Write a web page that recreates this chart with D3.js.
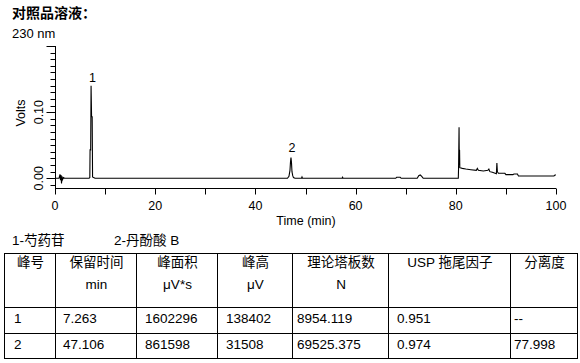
<!DOCTYPE html>
<html>
<head>
<meta charset="utf-8">
<script src="https://cdn.jsdelivr.net/npm/d3@7"></script>
<style>
  body { margin: 0; background: #fff; }
  text { font-family: "Liberation Sans", Arial, "Noto Sans CJK SC", sans-serif; fill: #000; }
</style>
</head>
<body>
<div id="chart"></div>
<script>
// chromatogram trace
let times = [0, 0.8, 1.0, 1.1, 1.2, 1.3, 1.4, 1.5, 1.7, 1.9,
	6.8, 6.95, 7.0, 7.12, 7.2, 7.3, 7.42, 7.5, 7.7, 8.0,
	46.4, 46.7, 46.9, 47.0, 47.1, 47.2, 47.3, 47.45, 47.6, 47.9,
	49.2, 49.3, 49.4, 57.3, 57.4, 57.5, 68.0, 68.2, 68.9, 69.1,
	72.3, 72.6, 72.9, 73.2, 73.5,
	80.5, 80.55, 80.65, 80.7, 80.75, 80.8, 81.3, 82.0, 83.0, 84.1, 84.3, 84.5, 85.5, 86.4, 86.6, 86.8,
	87.3, 87.7, 88.1, 88.2, 88.3, 88.5, 89.8, 90.0, 91.4, 91.6, 92.3, 92.5, 99.6, 99.8, 100];
let volts = [0, 0, 0.006, -0.003, 0.005, -0.008, 0.003, -0.002, 0.001, 0,
	0, 0.001, 0.043, 0.043, 0.140, 0.093, 0.093, 0.002, 0.001, 0,
	0, 0.003, 0.012, 0.024, 0.0315, 0.024, 0.010, 0.004, 0.001, 0,
	0, 0.002, 0, 0, 0.0015, 0, 0, 0.0015, 0.0015, 0,
	0, 0.004, 0.005, 0.003, 0,
	0, 0.015, 0.077, 0.020, 0.043, 0.016, 0.015, 0.014, 0.013, 0.012, 0.015, 0.012, 0.011, 0.012, 0.014, 0.010,
	0.009, 0.008, 0.007, 0.023, 0.010, 0.0075, 0.0075, 0.0055, 0.0055, 0.0065, 0.0065, 0.0035, 0.0035, 0.005, 0.005];

let peakLabels = ['1', '2'];
let peakTimes = [7.263, 47.106];
let peakVolts = [0.1384, 0.0315];

let legendItems = ['1-芍药苷', '2-丹酚酸 B'];

let headLine1 = ['峰号', '保留时间', '峰面积', '峰高', '理论塔板数', 'USP 拖尾因子', '分离度'];
let headLine2 = ['', 'min', 'μV*s', 'μV', 'N', '', ''];
let row1 = ['1', '7.263', '1602296', '138402', '8954.119', '0.951', '--'];
let row2 = ['2', '47.106', '861598', '31508', '69525.375', '0.974', '77.998'];

let width = 580;
let height = 363;

let svg = d3.select('#chart')
	.append('svg')
	.attr('width', width)
	.attr('height', height);

svg.append('text')
	.attr('x', 12).attr('y', 18)
	.attr('font-size', 14)
	.attr('font-weight', 'bold')
	.text('对照品溶液：');

svg.append('text')
	.attr('x', 12).attr('y', 38)
	.attr('font-size', 13)
	.text('230 nm');

let x = d3.scaleLinear().domain([0, 100]).range([55, 556]);
let y = d3.scaleLinear().domain([-0.0147, 0.2]).range([188, 46]);

// x axis
let xAxis = svg.append('g').attr('transform', 'translate(0,188.5)');
xAxis.append('line')
	.attr('x1', x(0)).attr('x2', x(100))
	.attr('stroke', '#000');
xAxis.selectAll('.xt')
	.data(d3.range(0, 101, 10))
	.enter()
	.append('line')
	.attr('x1', d => Math.round(x(d)) + 0.5)
	.attr('x2', d => Math.round(x(d)) + 0.5)
	.attr('y1', 0)
	.attr('y2', 6)
	.attr('stroke', '#000');
xAxis.selectAll('.xl')
	.data(d3.range(0, 101, 20))
	.enter()
	.append('text')
	.attr('x', d => x(d))
	.attr('y', 21)
	.attr('text-anchor', 'middle')
	.attr('font-size', 12.5)
	.text(d => d);
svg.append('text')
	.attr('x', 306).attr('y', 225)
	.attr('text-anchor', 'middle')
	.attr('font-size', 12.5)
	.text('Time (min)');

// y axis
let yAxis = svg.append('g').attr('transform', 'translate(55.5,0)');
yAxis.append('line')
	.attr('y1', y(0.2)).attr('y2', 188)
	.attr('stroke', '#000');
yAxis.selectAll('.yt')
	.data(d3.range(-1, 21))
	.enter()
	.append('line')
	.attr('y1', d => Math.round(y(d / 100)) + 0.5)
	.attr('y2', d => Math.round(y(d / 100)) + 0.5)
	.attr('x1', d => d % 10 === 0 ? -9 : -5)
	.attr('x2', 0)
	.attr('stroke', '#000');
yAxis.selectAll('.yl')
	.data([0, 0.1])
	.enter()
	.append('text')
	.attr('transform', d => 'translate(-13,' + y(d) + ') rotate(-90)')
	.attr('text-anchor', 'middle')
	.attr('font-size', 12.5)
	.text(d => d.toFixed(2));
svg.append('text')
	.attr('transform', 'translate(25,113) rotate(-90)')
	.attr('text-anchor', 'middle')
	.attr('font-size', 12.5)
	.text('Volts');

// trace
let line = d3.line()
	.x((d, i) => x(times[i]))
	.y((d, i) => y(volts[i]));
svg.append('path')
	.attr('d', line(times))
	.attr('fill', 'none')
	.attr('stroke', '#000')
	.attr('stroke-width', 1.1);

svg.selectAll('.pk')
	.data(peakLabels)
	.enter()
	.append('text')
	.attr('x', (d, i) => x(peakTimes[i]) + 1)
	.attr('y', (d, i) => y(peakVolts[i]) - 5)
	.attr('text-anchor', 'middle')
	.attr('font-size', 12.5)
	.text(d => d);

// legend line
svg.selectAll('.lg')
	.data(legendItems)
	.enter()
	.append('text')
	.attr('x', (d, i) => i === 0 ? 12 : 114)
	.attr('y', 245)
	.attr('font-size', 13.5)
	.text(d => d);

// table
let cols = [4, 55, 136, 217, 292, 388, 510, 577];
let rows = [253, 307, 333, 358];
let table = svg.append('g');
rows.forEach(function(r){
	table.append('line')
		.attr('x1', cols[0]).attr('x2', cols[cols.length - 1] + 1)
		.attr('y1', r + 0.5).attr('y2', r + 0.5)
		.attr('stroke', '#000');
});
cols.forEach(function(c){
	table.append('line')
		.attr('x1', c + 0.5).attr('x2', c + 0.5)
		.attr('y1', rows[0]).attr('y2', rows[rows.length - 1] + 1)
		.attr('stroke', '#000');
});
for(let i = 0; i < headLine1.length; i++){
	let cx = (cols[i] + cols[i + 1]) / 2 + 1;
	table.append('text')
		.attr('x', cx).attr('y', 267)
		.attr('text-anchor', 'middle')
		.attr('font-size', 13.5)
		.text(headLine1[i]);
	table.append('text')
		.attr('x', cx).attr('y', 289)
		.attr('text-anchor', 'middle')
		.attr('font-size', 13.5)
		.text(headLine2[i]);
}
let pads = [10, 8, 9, 9, 5, 9, 4];
[row1, row2].forEach(function(row, j){
	for(let i = 0; i < row.length; i++){
		table.append('text')
			.attr('x', cols[i] + pads[i])
			.attr('y', j === 0 ? 323 : 349)
			.attr('font-size', 13.5)
			.text(row[i]);
	}
});
</script>
</body>
</html>
